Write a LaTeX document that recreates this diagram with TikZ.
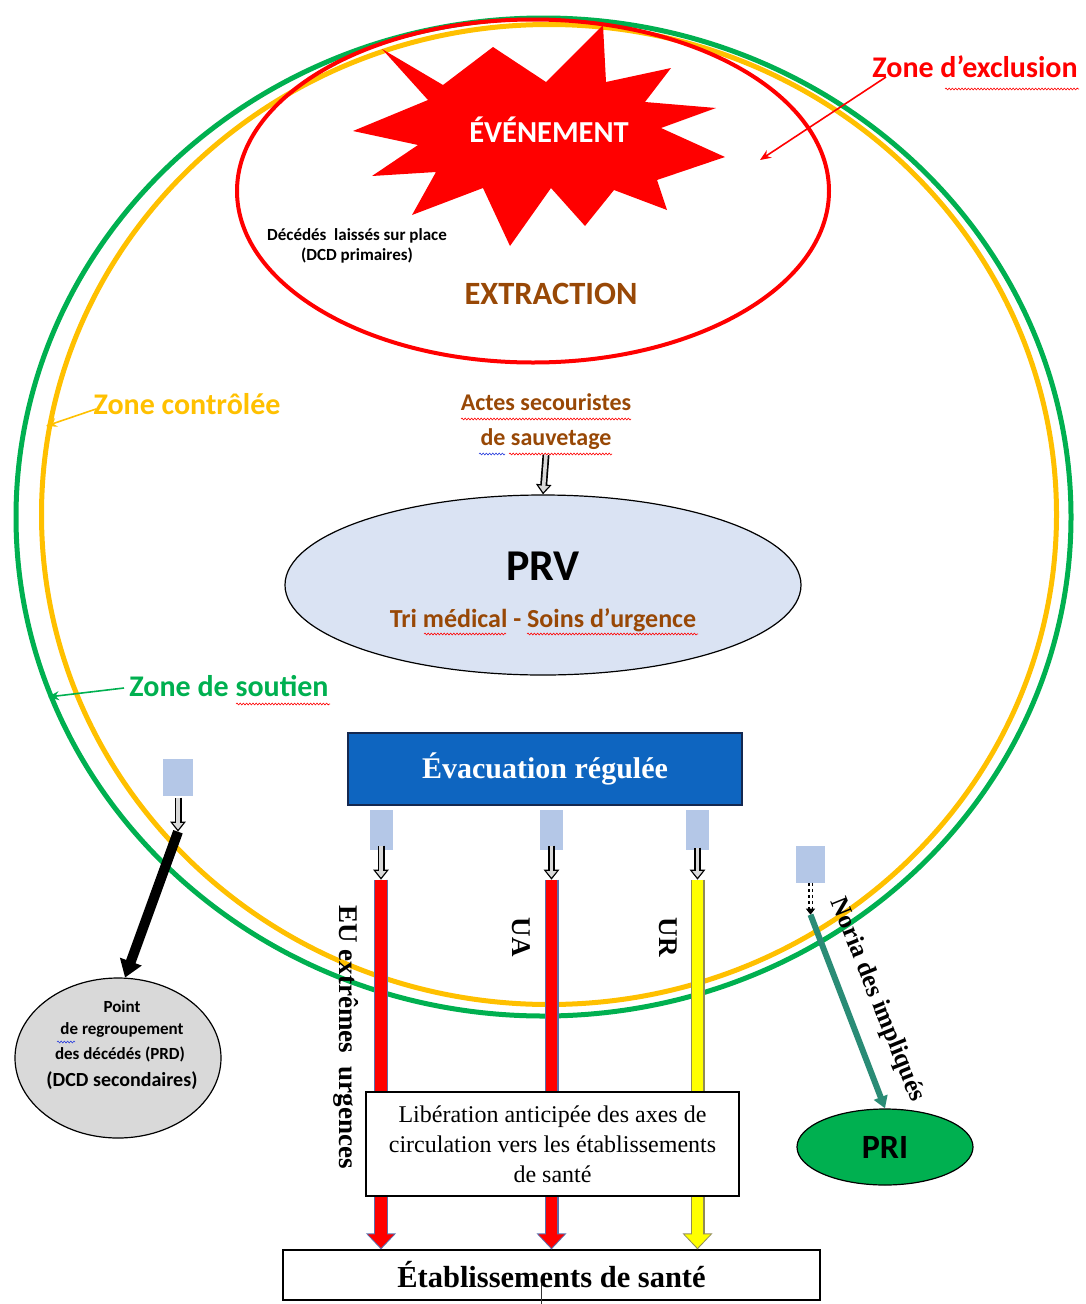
\documentclass[tikz,border=0pt]{standalone}
\usepackage{fontspec}
\setmainfont{Liberation Serif}
\newfontfamily\carl{Carlito}
\usetikzlibrary{arrows.meta,shapes.geometric,decorations.pathmorphing,calc}
\definecolor{zgreen}{RGB}{0,176,80}
\definecolor{zyellow}{RGB}{255,192,0}
\definecolor{zred}{RGB}{255,0,0}
\definecolor{brownt}{RGB}{152,72,6}
\definecolor{prvfill}{RGB}{218,227,243}
\definecolor{evblue}{RGB}{14,101,192}
\definecolor{evborder}{RGB}{20,40,80}
\definecolor{sqblue}{RGB}{180,199,231}
\definecolor{prdfill}{RGB}{217,217,217}
\definecolor{tealarr}{RGB}{42,140,118}
\definecolor{barline}{RGB}{90,110,170}
\definecolor{yelbar}{RGB}{255,255,0}
\definecolor{wavyblue}{RGB}{40,60,220}
\newcommand\fz[2]{\fontsize{#1}{#2}\selectfont}
\begin{document}
\begin{tikzpicture}[x=1pt,y=-1pt,
  zone/.style={ellipse, draw, inner sep=0pt, line width=5pt},
  sqbox/.style={rectangle, fill=sqblue, minimum width=23pt, minimum height=40pt, inner sep=0pt},
  holout/.style={black, line width=7pt, -{Triangle[length=10pt,width=15pt]}},
  holin/.style={gray!30, line width=3.6pt, shorten >=2.2pt, -{Triangle[length=6.5pt,width=10pt]}},
  zonelbl/.style={font=\carl\bfseries\fz{30}{36}},
  brownlbl/.style={font=\carl\bfseries\fz{24}{35}, text=brownt, align=center},
  vlbl/.style={font=\bfseries\fz{27}{32}, rotate=-90},
  ptr/.style={line width=1.6pt, -{Stealth[length=11pt,width=9pt]}},
  barout/.style={line width=14pt, -{Triangle[length=16pt,width=29pt]}},
  barin/.style={line width=11.5pt, shorten >=1.6pt, -{Triangle[length=13.5pt,width=25pt]}},
  wavy/.style={decorate, decoration={snake, amplitude=0.9pt, segment length=3.2pt}, line width=0.6pt},
  prdtxt/.style={font=\carl\bfseries\fz{17}{20}},
  boxw/.style={rectangle, draw=black, fill=white, line width=1.2pt, inner sep=0pt}
]
\useasboundingbox (0,0) rectangle (1085,1304);

% zones
\node[zone, draw=zgreen, minimum width=1055pt, minimum height=998pt] (soutien) at (543.5,517) {};
\node[zone, draw=zyellow, minimum width=1015pt, minimum height=980pt] (controle) at (549,514.5) {};
\node[zone, draw=zred, line width=4pt, minimum width=592pt, minimum height=343pt] (exclusion) at (533,191) {};

% star
\fill[zred] (382,49) -- (443,85) -- (493,47) -- (546,82) -- (603,25) -- (606,82) -- (671,68)
  -- (645,102) -- (716,108) -- (661,128) -- (725,157) -- (657,180) -- (667,210) -- (614,190)
  -- (585,226) -- (551,188) -- (510,246) -- (483,188) -- (412,215) -- (436,172) -- (372,176)
  -- (418,145) -- (353,131) -- (428,100) -- cycle;
\node[font=\carl\bfseries\fz{30.5}{36}, text=white] (evt) at (549,130) {ÉVÉNEMENT};

\node[font=\carl\bfseries\fz{17}{20}, align=center] (dcdp) at (357,246) {Décédés\ \ laissés sur place\\(DCD primaires)};
\node[font=\carl\bfseries\fz{32.5}{38}, text=brownt] (extr) at (551,294) {EXTRACTION};

% zone labels
\node[zonelbl, text=zred] (lblex) at (975,67) {Zone d’exclusion};
\coordinate (exA) at (886,77);
\coordinate (exB) at (760,160);
\draw[ptr, zred] (exA) -- (exB);
\draw[wavy, zred] (945,89) -- (1079,89);

\node[zonelbl, text=zyellow] (lblco) at (187,404) {Zone contrôlée};
\coordinate (coA) at (96,409);
\coordinate (coB) at (46,426);
\draw[ptr, zyellow] (coA) -- (coB);

\node[zonelbl, text=zgreen] (lblso) at (229,686) {Zone de soutien};
\coordinate (soA) at (124,688);
\coordinate (soB) at (48,697);
\draw[ptr, zgreen] (soA) -- (soB);
\draw[wavy, zred] (236,704) -- (330,704);

% PRV
\node[brownlbl] (actes) at (546,422) {Actes secouristes\\de sauvetage};
\draw[wavy, zred] (461,419) -- (631,419);
\draw[wavy, wavyblue] (479,454) -- (505,454);
\draw[wavy, zred] (509,454) -- (612,454);
\node[ellipse, draw=black, fill=prvfill, line width=1.2pt, inner sep=0pt, minimum width=516pt, minimum height=180pt] (prv) at (543,585) {};
\coordinate (actA) at (546,455);
\draw[holout] (actA) -- (prv.north);
\draw[holin] (actA) -- (prv.north);
\node[font=\carl\bfseries\fz{44}{50}] (prvt) at (543,566) {PRV};
\node[font=\carl\bfseries\fz{26}{30}, text=brownt] (tri) at (543,620) {Tri médical - Soins d’urgence};
\draw[wavy, zred] (424,634) -- (506,634);
\draw[wavy, zred] (527,634) -- (698,634);

% evacuation
\node[rectangle, draw=evborder, fill=evblue, line width=1.2pt, minimum width=394pt, minimum height=72pt, inner sep=0pt, font=\bfseries\fz{30}{35}, text=white] (evac) at (545,769) {Évacuation régulée};

\node[sqbox] (sq1) at (381,829.5) {};
\node[sqbox] (sq2) at (551.5,829.5) {};
\node[sqbox] (sq3) at (697.5,829.5) {};
\node[sqbox, minimum width=30pt, minimum height=37pt] (sqL) at (178,777) {};
\node[sqbox, minimum width=29pt, minimum height=37pt] (sqR) at (810.5,864) {};

\node[boxw, minimum width=537pt, minimum height=50pt, font=\bfseries\fz{30.5}{35}] (etab) at (551.5,1275) {Établissements de santé};

\coordinate (b1) at ($(sq1.south)+(0,30)$);
\coordinate (b2) at ($(sq2.south)+(0,30)$);
\coordinate (b3) at ($(sq3.south)+(0,30)$);
\coordinate (a1) at ($(sq1.south)+(0,-4)$);
\coordinate (a2) at ($(sq2.south)+(0,-4)$);
\coordinate (a3) at ($(sq3.south)+(0,-2)$);
\foreach \s/\e in {a1/b1, a2/b2, a3/b3} {
  \draw[holout] (\s) -- (\e);
  \draw[holin] (\s) -- (\e);
}

\draw[barout, barline] (b1) -- (b1 |- etab.north);
\draw[barin, zred] (b1) -- (b1 |- etab.north);
\draw[barout, barline] (b2) -- (b2 |- etab.north);
\draw[barin, zred] (b2) -- (b2 |- etab.north);
\draw[barout, gray!60!olive] (b3) -- (b3 |- etab.north);
\draw[barin, yelbar] (b3) -- (b3 |- etab.north);

\node[boxw, minimum width=373pt, minimum height=104pt, align=center, font=\fz{24}{30}] (liber) at (552.5,1144)
  {Libération anticipée des axes de\\circulation vers les établissements\\de santé};

\node[vlbl] (eu) at (346,1037) {EU extrêmes\ \ urgences};
\node[vlbl] (ua) at (521,937) {UA};
\node[vlbl] (ur) at (668,937) {UR};

\draw[gray!40!black, line width=0.8pt] (541,1284) -- (541,1304);

% PRD
\node[ellipse, draw=black, fill=prdfill, line width=1.2pt, inner sep=0pt, minimum width=206pt, minimum height=160pt] (prd) at (118,1058) {};
\node[prdtxt] (prd1) at (122,1007) {Point};
\node[prdtxt] (prd2) at (122,1030) {de regroupement};
\node[prdtxt] (prd3) at (120,1054) {des décédés (PRD)};
\node[prdtxt, font=\carl\bfseries\fz{20}{24}] (prd4) at (122,1081) {(DCD secondaires)};
\draw[wavy, wavyblue] (57,1042) -- (75,1042);
\coordinate (cL) at ($(sqL.south)+(0,36)$);
\coordinate (aL) at ($(sqL.south)+(0,2)$);
\draw[holout] (aL) -- (cL);
\draw[holin] (aL) -- (cL);
\draw[line width=10pt, black, -{Triangle[length=17pt,width=22pt]}] (cL) -- (prd.85);

% PRI
\node[ellipse, draw=black, fill=zgreen, line width=1.2pt, inner sep=0pt, minimum width=176pt, minimum height=76pt, font=\carl\bfseries\fz{34}{40}] (pri) at (885,1147) {PRI};
\coordinate (cR) at ($(sqR.south)+(0,32)$);
\draw[black, line width=1.2pt, dashed, double=white, double distance=2pt, -{Triangle[length=6pt,width=9pt]}] (sqR.south) -- (cR);
\draw[line width=6pt, tealarr, -{Triangle[length=12pt,width=14pt]}] (cR) -- (pri.north);
\node[font=\bfseries\fz{25.5}{30}, rotate=-68] (noria) at (877,1000) {Noria des impliqués};
\end{tikzpicture}
\end{document}
